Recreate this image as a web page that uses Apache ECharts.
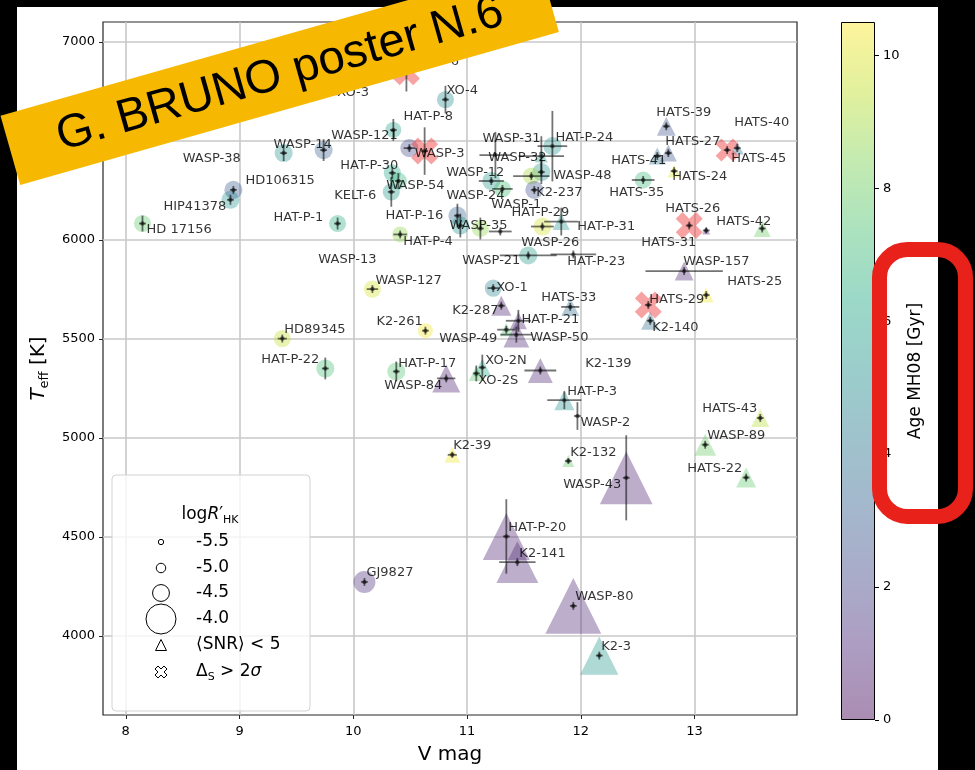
<!DOCTYPE html>
<html><head><meta charset="utf-8">
<script src="https://cdn.jsdelivr.net/npm/echarts@6/dist/echarts.min.js"></script>
<style>
html,body{margin:0;padding:0;background:#000;}
#wrap{position:relative;width:975px;height:770px;overflow:hidden;background:#000;}
#paper{position:absolute;left:17px;top:7px;width:921px;height:763px;background:#fff;}
#chart{position:absolute;left:0;top:0;width:975px;height:770px;}
</style></head><body>
<div id="wrap"><div id="paper"></div><div id="chart"></div></div>
<script>
// ---------------- data ----------------
const names = ['HD 17156','HIP41378','HD106315','WASP-38','WASP-14','HAT-P-1','XO-3','HAT-P-6','WASP-121','HAT-P-8',
 'WASP-3','XO-4','HAT-P-30','WASP-54','KELT-6','HAT-P-4','HAT-P-16','','WASP-35','WASP-13',
 'WASP-127','K2-261','HD89345','HAT-P-22','HAT-P-17','WASP-84','GJ9827','K2-39','WASP-31','WASP-32',
 'HAT-P-24','WASP-12','WASP-48','WASP-1','K2-237','WASP-24','HAT-P-29','HAT-P-31','WASP-21','WASP-26',
 'HAT-P-23','XO-1','K2-287','HAT-P-21','WASP-50','WASP-49','XO-2N','XO-2S','K2-139','HATS-33',
 'HAT-P-3','WASP-2','K2-132','WASP-43','HAT-P-20','K2-141','WASP-80','K2-3','WASP-157','HATS-25',
 'HATS-29','K2-140','HATS-39','HATS-27','HATS-41','HATS-24','HATS-35','HATS-40','HATS-45','HATS-26',
 'HATS-31','HATS-42','HATS-43','WASP-89','HATS-22'];
const vmag = [8.147,8.920,8.946,9.388,9.739,9.862,9.807,10.467,10.352,10.493,
 10.627,10.810,10.343,10.396,10.334,10.412,10.915,10.941,11.117,9.693,
 10.168,10.634,9.376,9.754,10.378,10.817,10.098,10.870,11.249,11.653,
 11.750,11.213,11.653,11.565,11.591,11.311,11.662,11.828,11.292,11.538,
 11.934,11.230,11.301,11.451,11.433,11.345,11.134,11.081,11.644,11.907,
 11.855,11.970,11.890,12.399,11.345,11.442,11.934,12.162,12.908,13.102,
 12.593,12.610,12.751,12.769,12.672,12.820,12.548,13.286,13.375,12.953,
 13.102,13.594,13.577,13.093,13.453];
const teff = [6082,6202,6252,6438,6453,6082,6784,6849,6555,6463,
 6448,6708,6338,6297,6242,6027,6122,6072,6057,5901,
 5751,5541,5501,5350,5335,5300,4272,4914,6428,6423,
 6473,6297,6342,6322,6252,6257,6067,6092,6042,5921,
 5926,5756,5667,5591,5521,5546,5355,5325,5340,5661,
 5190,5110,4883,4798,4502,4372,4151,3900,5842,5721,
 5671,5591,6573,6438,6423,6347,6302,6453,6463,6072,
 6047,6057,5100,4965,4799];
const vErr = [0.03,0.03,0.03,0.03,0.03,0.03,0.03,0.03,0.03,0.05,
 0.03,0.03,0.03,0.03,0.03,0.06,0.03,0.03,0.03,0,
 0.05,0.03,0.04,0.03,0.03,0.08,0.03,0.04,0.14,0.2,
 0.13,0.11,0.03,0.16,0.03,0.09,0.1,0.15,0.1,0.25,
 0.2,0.05,0.03,0.11,0.14,0.08,0.03,0.03,0.14,0.08,
 0.15,0.03,0.03,0.03,0.03,0.16,0.03,0.03,0.34,0.03,
 0.03,0.03,0.03,0.03,0.03,0.03,0.1,0.03,0.03,0.03,
 0.03,0.03,0.03,0.03,0.03];
const tErr = [40,25,20,40,55,30,50,100,55,20,
 120,70,30,40,75,20,60,60,55,0,
 20,20,20,55,50,20,20,15,117,100,
 178,20,60,20,20,20,20,70,20,20,
 20,20,20,55,40,20,65,40,20,20,
 45,70,15,215,188,20,20,20,20,20,
 20,20,20,20,20,20,20,20,20,20,
 15,20,20,20,20];
const age = [7.8,5.3,3.0,5.3,3.2,6.5,null,null,5.8,2.3,
 null,5.0,6.2,6.8,5.6,8.7,3.3,5.3,8.7,null,
 9.8,10.3,9.5,7.3,7.5,0.8,1.2,10.3,null,5.5,
 5.3,5.5,5.3,9.0,2.5,7.3,9.8,5.3,null,5.6,
 null,4.6,0.8,0.9,0.9,7.5,6.3,7.8,0.9,3.8,
 5.2,null,7.8,0.8,0.8,1.0,0.9,5.5,1.0,10.3,
 null,3.8,2.6,2.6,3.8,10.0,7.0,null,3.8,null,
 1.0,8.0,9.3,8.0,7.8];
const logRHK = [-4.49,-4.44,-4.44,-4.44,-4.44,-4.49,-4.20,-4.04,-4.55,-4.44,
 -4.04,-4.49,-4.49,-4.49,-4.49,-4.55,-4.44,-4.44,-4.49,null,
 -4.49,-4.60,-4.49,-4.44,-4.44,-4.06,-4.27,-4.55,null,-4.73,
 -4.44,-4.44,-4.44,-4.49,-4.44,-4.49,-4.44,-4.49,null,-4.44,
 null,-4.49,-4.35,-4.49,-4.13,-4.73,-4.44,-4.60,-4.16,-4.44,
 -4.35,null,-4.80,-3.51,-3.61,-3.71,-3.46,-3.79,-4.40,-4.60,
 -4.04,-4.44,-4.40,-4.49,-4.49,-4.73,-4.49,-4.18,-4.73,-4.04,
 -5.15,-4.49,-4.44,-4.27,-4.35];
// 'o' = circle, '^' = <SNR> < 5, 'X' = Delta_S > 2 sigma, '.' = point only, '' = label only
const marker = ['o','o','o','o','o','o','X','X','o','o',
 'X','o','o','o','o','o','o','o','o','',
 'o','o','o','o','o','^','o','^','.','^',
 'o','o','o','o','o','o','o','^','.','o',
 '.','o','^','^','^','^','^','^','^','^',
 '^','.','^','^','^','^','^','^','^','^',
 'X','^','^','^','^','^','o','X','^','X',
 '^','^','^','^','^'];
const xTicks = [8,9,10,11,12,13];
const yTicks = [4000,4500,5000,5500,6000,6500,7000];
const cbTicks = [0,2,4,6,8,10];
const legendLogR = [-5.5,-5.0,-4.5,-4.0];
const AGE_MAX = 10.5;

// ---------------- layout (label offsets in px from point) ----------------
const LABEL_OFFSET = {
 'HD 17156':[4,6],'HIP41378':[-67,7],'HD106315':[12,-9],'WASP-38':[-101,6],'WASP-14':[-50,-5],
 'HAT-P-1':[-64,-6],'XO-3':[6,8],'HAT-P-6':[3,-10],'WASP-121':[-62,6],'HAT-P-8':[-6,-32],
 'WASP-3':[-10,3],'XO-4':[1,-9],'HAT-P-30':[-52,-7],'WASP-54':[-12,5],'KELT-6':[-57,4],
 'HAT-P-4':[3,7],'HAT-P-16':[-72,0],'WASP-35':[-31,-3],'WASP-13':[0,0],'WASP-127':[3,-8],
 'K2-261':[-49,-9],'HD89345':[2,-9],'HAT-P-22':[-64,-9],'HAT-P-17':[2,-8],'WASP-84':[-62,7],
 'GJ9827':[2,-9],'K2-39':[1,-9],'WASP-31':[-13,-16],'WASP-32':[-53,2],'HAT-P-24':[3,-9],
 'WASP-12':[-45,-8],'WASP-48':[12,4],'WASP-1':[-40,29],'K2-237':[2,3],'WASP-24':[-56,7],
 'HAT-P-29':[-31,-14],'HAT-P-31':[16,5],'WASP-21':[-38,29],'WASP-26':[-7,-13],'HAT-P-23':[-6,7],
 'XO-1':[3,0],'K2-287':[-49,5],'HAT-P-21':[3,-1],'WASP-50':[14,3],'WASP-49':[-67,9],
 'XO-2N':[3,-7],'XO-2S':[2,7],'K2-139':[45,-7],'HATS-33':[-29,-9],'HAT-P-3':[3,-9],
 'WASP-2':[3,7],'K2-132':[2,-8],'WASP-43':[-63,7],'HAT-P-20':[2,-9],'K2-141':[2,-9],
 'WASP-80':[2,-9],'K2-3':[2,-9],'WASP-157':[-1,-9],'HATS-25':[21,-13],'HATS-29':[1,-5],
 'K2-140':[2,7],'HATS-39':[-10,-14],'HATS-27':[-3,-11],'HATS-41':[-46,5],'HATS-24':[-2,6],
 'HATS-35':[-34,13],'HATS-40':[7,-27],'HATS-45':[-6,10],'HATS-26':[-24,-17],'HATS-31':[-65,12],
 'HATS-42':[-46,-7],'HATS-43':[-58,-9],'WASP-89':[2,-9],'HATS-22':[-59,-9]
};

// ---------------- styles ----------------
const FONT = 'DejaVu Sans';
const VIR = ['#440154','#482475','#414487','#355f8d','#2a788e','#21918c','#22a884','#44bf70','#7ad151','#bddf26','#fde725'];
const ALPHA = 0.45;
function hex(h){return [parseInt(h.slice(1,3),16),parseInt(h.slice(3,5),16),parseInt(h.slice(5,7),16)];}
function viridis(t,a){
  t=Math.max(0,Math.min(1,t)); const s=t*(VIR.length-1); const i=Math.min(Math.floor(s),VIR.length-2); const f=s-i;
  const c0=hex(VIR[i]), c1=hex(VIR[i+1]);
  return 'rgba('+Math.round(c0[0]+(c1[0]-c0[0])*f)+','+Math.round(c0[1]+(c1[1]-c0[1])*f)+','+Math.round(c0[2]+(c1[2]-c0[2])*f)+','+a+')';
}
function diam(L){return 30*Math.pow(10,(L+4)/2);}
const XPATH = 'path://M1,-2L2,-1L1,0L2,1L1,2L0,1L-1,2L-2,1L-1,0L-2,-1L-1,-2L0,-1Z';
const XRED = 'rgba(240,45,45,0.55)';
const plain = v => String(v);

function idx(kind){const o=[];marker.forEach((m,i)=>{if(m===kind)o.push(i);});return o;}
const circleData = idx('o').map(i=>({value:[vmag[i],teff[i]],symbolSize:diam(logRHK[i]),itemStyle:{color:viridis(age[i]/AGE_MAX,ALPHA)}}));
const triData = idx('^').map(i=>({value:[vmag[i],teff[i]],symbolSize:diam(logRHK[i]),itemStyle:{color:viridis(age[i]/AGE_MAX,ALPHA)}}));
const crossData = idx('X').map(i=>({value:[vmag[i],teff[i]],symbolSize:diam(logRHK[i])*0.943}));
const withPoint = []; marker.forEach((m,i)=>{if(m!=='')withPoint.push(i);});
const errData = withPoint.map(i=>[vmag[i],teff[i],vErr[i],tErr[i]]);
const dotData = withPoint.map(i=>[vmag[i],teff[i]]);
const labelData = [];
names.forEach((n,i)=>{ if(!n) return; const off=LABEL_OFFSET[n]||[3,-9];
  labelData.push({name:n,value:[vmag[i],teff[i]],label:{position:[off[0]+0.5,off[1]+0.5]}}); });

function renderErr(params, api){
  const v=api.value(0), t=api.value(1), dv=api.value(2), dt=api.value(3);
  const l=api.coord([v-dv,t]), r=api.coord([v+dv,t]), b=api.coord([v,t-dt]), u=api.coord([v,t+dt]);
  const st={stroke:'rgba(0,0,0,0.55)',lineWidth:1.8};
  return {type:'group',children:[
    {type:'line',shape:{x1:l[0],y1:l[1],x2:r[0],y2:r[1]},style:st},
    {type:'line',shape:{x1:b[0],y1:b[1],x2:u[0],y2:u[1]},style:st}]};
}

const cbStops = VIR.map((c,i)=>({offset:i/(VIR.length-1),color:viridis(i/(VIR.length-1),ALPHA)}));

// legend (graphic)
const LG = {x:112,y:475,w:198,h:236,mx:161,tx:196,title:[210,515],rows:[542,568,593,619,645,672]};
const legendEls = [
  {type:'rect',z:50,shape:{x:LG.x,y:LG.y,width:LG.w,height:LG.h,r:4},style:{fill:'rgba(255,255,255,0.8)',stroke:'#d3d3d3',lineWidth:1}},
  {type:'text',z:51,style:{text:'{a|log}{b|R}{a|′}{c|HK}',x:LG.title[0],y:LG.title[1],align:'center',verticalAlign:'middle',
    rich:{a:{fontSize:17,fontFamily:FONT,fill:'#000',lineHeight:22},b:{fontSize:17,fontFamily:FONT,fontStyle:'italic',fill:'#000',lineHeight:22},
          c:{fontSize:11,fontFamily:FONT,fill:'#000',lineHeight:11,verticalAlign:'bottom'}}}}
];
legendLogR.forEach((L,k)=>{
  legendEls.push({type:'circle',z:51,shape:{cx:LG.mx,cy:LG.rows[k],r:diam(L)/2},style:{fill:'#fff',stroke:'#000',lineWidth:1}});
  legendEls.push({type:'text',z:51,style:{text:L.toFixed(1),x:LG.tx,y:LG.rows[k],align:'left',verticalAlign:'middle',fontSize:17,fontFamily:FONT,fill:'#000'}});
});
(function(){
  const cy=LG.rows[4], h=11;
  legendEls.push({type:'polygon',z:51,shape:{points:[[LG.mx-h/2,cy+h/2],[LG.mx+h/2,cy+h/2],[LG.mx,cy-h/2]]},style:{fill:'#fff',stroke:'#000',lineWidth:1}});
  legendEls.push({type:'text',z:51,style:{text:'⟨SNR⟩ < 5',x:LG.tx,y:cy,align:'left',verticalAlign:'middle',fontSize:17,fontFamily:FONT,fill:'#000'}});
  const cy2=LG.rows[5], s=3;
  const xp=[[1,-2],[2,-1],[1,0],[2,1],[1,2],[0,1],[-1,2],[-2,1],[-1,0],[-2,-1],[-1,-2],[0,-1]].map(p=>[LG.mx+p[0]*s,cy2+p[1]*s]);
  legendEls.push({type:'polygon',z:51,shape:{points:xp},style:{fill:'#fff',stroke:'#000',lineWidth:1}});
  legendEls.push({type:'text',z:51,style:{text:'{a|Δ}{c|S}{a| > 2}{b|σ}',x:LG.tx,y:cy2,align:'left',verticalAlign:'middle',
    rich:{a:{fontSize:17,fontFamily:FONT,fill:'#000',lineHeight:22},b:{fontSize:17,fontFamily:FONT,fontStyle:'italic',fill:'#000',lineHeight:22},
          c:{fontSize:11,fontFamily:FONT,fill:'#000',lineHeight:11,verticalAlign:'bottom'}}}});
})();

const chart = echarts.init(document.getElementById('chart'), null, {renderer:'canvas'});
const option = {
  animation:false,
  backgroundColor:'transparent',
  textStyle:{fontFamily:FONT},
  grid:[
    {left:103,top:22,width:694,height:698,show:true,borderColor:'#262626',borderWidth:1.2,backgroundColor:'transparent'},
    {left:841,top:22,width:34,height:698}
  ],
  xAxis:[
    {type:'value',gridIndex:0,min:7.8,max:13.9,name:'V mag',nameLocation:'middle',nameGap:30,
     nameTextStyle:{fontSize:20,color:'#000',fontFamily:FONT},
     axisLine:{show:false},
     axisTick:{show:true,length:4,customValues:xTicks,lineStyle:{color:'#262626'}},
     axisLabel:{customValues:xTicks,formatter:plain,fontSize:13,color:'#000',margin:10,fontFamily:FONT},
     splitLine:{show:true,lineStyle:{color:'#c8c8c8',width:1.6}}},
    {type:'category',gridIndex:1,data:['age'],show:false,boundaryGap:true}
  ],
  yAxis:[
    {type:'value',gridIndex:0,min:3600,max:7100,name:'{i|T}{s|eff}{n| [K]}',nameLocation:'middle',nameRotate:90,nameGap:45,
     nameTextStyle:{rich:{i:{fontSize:20,fontStyle:'italic',fontFamily:FONT,color:'#000',lineHeight:24},
       s:{fontSize:13,fontFamily:FONT,color:'#000',lineHeight:13,verticalAlign:'bottom'},
       n:{fontSize:20,fontFamily:FONT,color:'#000',lineHeight:24}}},
     axisLine:{show:false},
     axisTick:{show:true,length:4,customValues:yTicks,lineStyle:{color:'#262626'}},
     axisLabel:{customValues:yTicks,formatter:plain,fontSize:13,color:'#000',margin:8,fontFamily:FONT},
     splitLine:{show:true,lineStyle:{color:'#c8c8c8',width:1.6}}},
    {type:'value',gridIndex:1,min:0,max:AGE_MAX,position:'right',name:'Age MH08 [Gyr]',nameLocation:'middle',nameRotate:90,nameGap:32,
     nameTextStyle:{fontSize:17,color:'#000',fontFamily:FONT},
     axisLine:{show:false},
     axisTick:{show:true,length:4,customValues:cbTicks,lineStyle:{color:'#000'}},
     axisLabel:{customValues:cbTicks,formatter:plain,fontSize:13,color:'#000',margin:8,fontFamily:FONT},
     splitLine:{show:false}}
  ],
  series:[
    {type:'scatter',name:'circles',data:circleData,symbol:'circle',z:2,silent:true,emphasis:{disabled:true}},
    {type:'scatter',name:'snr',data:triData,symbol:'triangle',z:2,silent:true,emphasis:{disabled:true}},
    {type:'scatter',name:'deltaS',data:crossData,symbol:XPATH,itemStyle:{color:XRED},z:3,silent:true,emphasis:{disabled:true}},
    {type:'custom',name:'err',data:errData,renderItem:renderErr,encode:{x:0,y:1},z:4,silent:true},
    {type:'scatter',name:'dots',data:dotData,symbol:'circle',symbolSize:4.5,itemStyle:{color:'rgba(0,0,0,0.6)'},z:4,silent:true,emphasis:{disabled:true}},
    {type:'scatter',name:'labels',data:labelData,symbol:'rect',symbolSize:1,itemStyle:{color:'rgba(0,0,0,0)'},z:5,silent:true,
     emphasis:{disabled:true},
     label:{show:true,formatter:'{b}',align:'left',verticalAlign:'middle',fontSize:13,color:'#000',fontFamily:FONT}},
    {type:'bar',name:'colorbar',xAxisIndex:1,yAxisIndex:1,data:[AGE_MAX],barWidth:'100%',silent:true,
     itemStyle:{color:new echarts.graphic.LinearGradient(0,1,0,0,cbStops),borderColor:'#000',borderWidth:1}}
  ],
  graphic:{elements:[
    {type:'group',z:50,children:legendEls},
    {type:'group',z:100,x:279.7,y:73.9,rotation:15.85*Math.PI/180,children:[
      {type:'rect',z:100,shape:{x:-280,y:-36,width:560,height:72},style:{fill:'#F6B800'}},
      {type:'text',z:101,style:{text:'G. BRUNO poster N.6',x:0,y:1,align:'center',verticalAlign:'middle',
        textAlign:'center',textVerticalAlign:'middle',fontSize:47,fontFamily:'Liberation Sans',fill:'#000'}}
    ]},
    {type:'rect',z:110,shape:{x:879.5,y:249.5,width:86,height:267,r:28},style:{fill:'none',stroke:'#E8221A',lineWidth:15}}
  ]}
};
chart.setOption(option);
</script></body></html>
